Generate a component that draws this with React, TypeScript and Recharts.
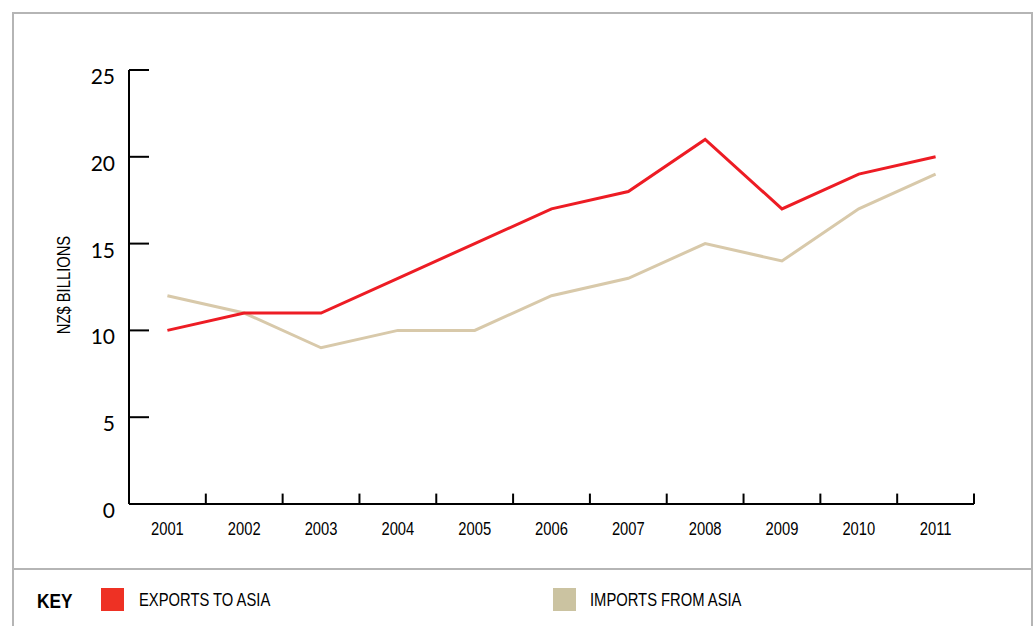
import React from "react";
import { LineChart, Line, XAxis, YAxis, ReferenceLine } from "recharts";

const years = [2001, 2002, 2003, 2004, 2005, 2006, 2007, 2008, 2009, 2010, 2011];
const exportsToAsia = [10, 11, 11, 13, 15, 17, 18, 21, 17, 19, 20];
const importsFromAsia = [12, 11, 9, 10, 10, 12, 13, 15, 14, 17, 19];
const yTicks = [0, 5, 10, 15, 20, 25];
// tick marks sit between the years
const yearBoundaries = [2001.5, 2002.5, 2003.5, 2004.5, 2005.5, 2006.5, 2007.5, 2008.5, 2009.5, 2010.5, 2011.5];

const data = years.map((year, i) => ({
  year,
  exports: exportsToAsia[i],
  imports: importsFromAsia[i],
}));

const SANS = '"Liberation Sans", Arial, sans-serif';
const NARROW_X = 0.82; // squeeze Liberation Sans into an Arial Narrow look
const RED = "#ed1c24";
const BEIGE = "#d8c9aa";
const BORDER = "#b5b5b5";

const YTick = ({ x, y, payload }: any) => (
  <g>
    <line x1={x} x2={x + 20} y1={y} y2={y} stroke="#000" strokeWidth={2} />
    <text x={x - 14} y={y + 14} textAnchor="end" fontSize={21} fontFamily="Lato, 'Open Sans', sans-serif" fill="#000">
      {payload.value}
    </text>
  </g>
);

const XTick = ({ x, y, payload }: any) => (
  <text
    transform={`translate(${x},${y + 31}) scale(${NARROW_X},1)`}
    textAnchor="middle"
    fontSize={18}
    fontFamily={SANS}
    fill="#000"
  >
    {payload.value}
  </text>
);

const narrowText = (left: number, top: number, text: string, size: number, bold = false) => (
  <div
    style={{
      position: "absolute",
      left,
      top,
      fontFamily: SANS,
      fontSize: size,
      fontWeight: bold ? 700 : 400,
      lineHeight: `${size + 4}px`,
      whiteSpace: "nowrap",
      transform: `scaleX(${NARROW_X})`,
      transformOrigin: "left center",
      color: "#000",
    }}
  >
    {text}
  </div>
);

export default function App() {
  return (
    <div style={{ position: "fixed", left: 0, top: 0, width: 1035, height: 626, background: "#fff", overflow: "hidden" }}>
      {/* frame */}
      <div style={{ position: "absolute", left: 12, top: 12, width: 1021, height: 640, border: `2px solid ${BORDER}`, boxSizing: "border-box" }} />
      <div style={{ position: "absolute", left: 12, top: 568, width: 1021, height: 2, background: BORDER }} />

      <div style={{ position: "absolute", left: 0, top: 0 }}>
        <LineChart width={1035} height={560} data={data} margin={{ top: 70, right: 61, bottom: 16, left: 69 }}>
          <XAxis
            dataKey="year"
            type="number"
            domain={[2000.5, 2011.5]}
            allowDataOverflow
            ticks={years}
            interval={0}
            height={40}
            axisLine={{ stroke: "#000", strokeWidth: 2 }}
            tickLine={false}
            tickSize={0}
            tickMargin={0}
            tick={<XTick />}
          />
          <YAxis
            domain={[0, 25]}
            allowDataOverflow
            ticks={yTicks}
            interval={0}
            width={60}
            axisLine={{ stroke: "#000", strokeWidth: 2 }}
            tickLine={false}
            tickSize={0}
            tickMargin={0}
            tick={<YTick />}
          />
          {yearBoundaries.map((b) => (
            <ReferenceLine
              key={b}
              segment={[{ x: b, y: 0 }, { x: b, y: 0.6 }]}
              stroke="#000"
              strokeWidth={2}
              ifOverflow="visible"
            />
          ))}
          <Line
            dataKey="imports"
            stroke={BEIGE}
            strokeWidth={3}
            dot={false}
            activeDot={false}
            isAnimationActive={false}
          />
          <Line
            dataKey="exports"
            stroke={RED}
            strokeWidth={3}
            dot={false}
            activeDot={false}
            isAnimationActive={false}
          />
        </LineChart>
      </div>

      {/* axis title */}
      <div
        style={{
          position: "absolute",
          left: 64,
          top: 285,
          transform: `translate(-50%, -50%) rotate(-90deg) scaleX(${NARROW_X})`,
          whiteSpace: "nowrap",
          fontFamily: SANS,
          fontSize: 18,
          color: "#000",
        }}
      >
        NZ$ BILLIONS
      </div>

      {/* key */}
      {narrowText(37, 588, "KEY", 21, true)}
      <div style={{ position: "absolute", left: 101, top: 588, width: 23, height: 23, background: "#ee3124" }} />
      {narrowText(139, 589, "EXPORTS TO ASIA", 18)}
      <div style={{ position: "absolute", left: 553, top: 588, width: 23, height: 23, background: "#cbc3a1" }} />
      {narrowText(590, 589, "IMPORTS FROM ASIA", 18)}
    </div>
  );
}
